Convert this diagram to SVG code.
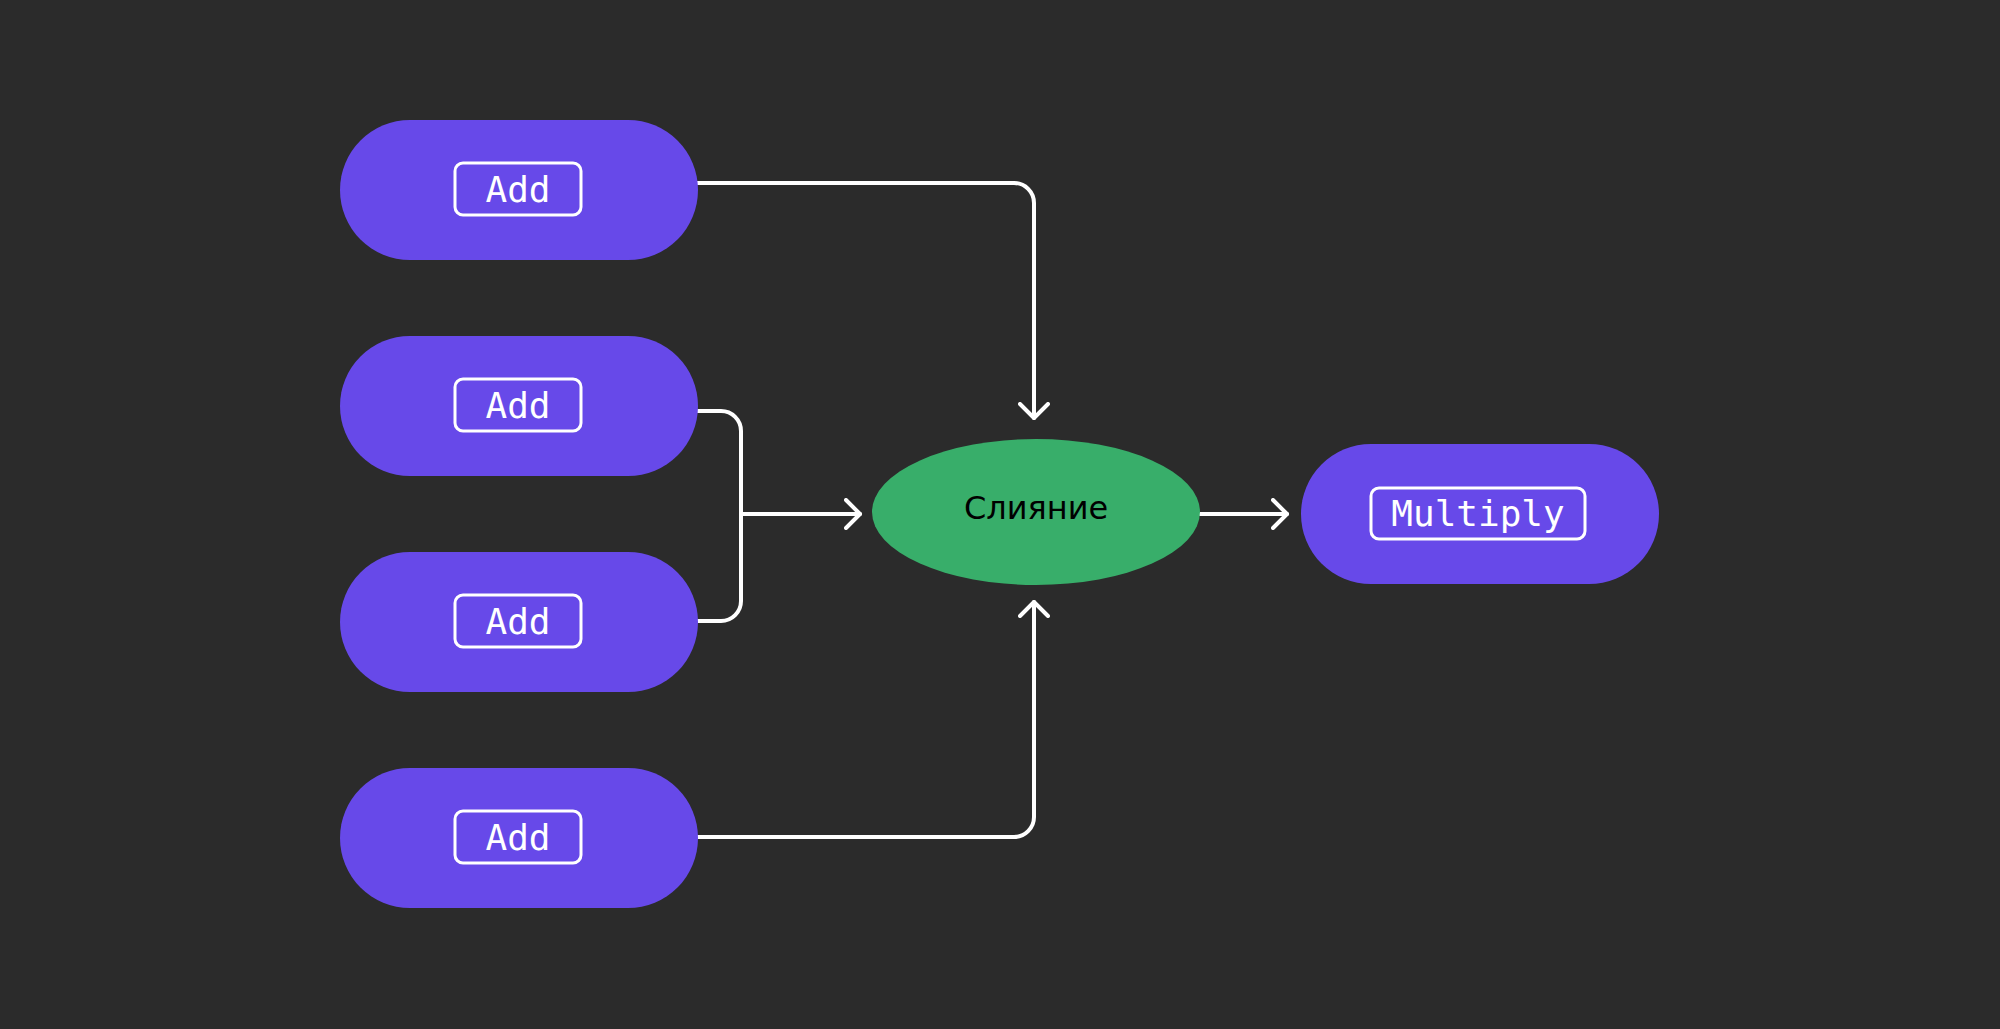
<svg xmlns="http://www.w3.org/2000/svg" width="2000" height="1029" viewBox="0 0 2000 1029">
  <defs>
    <style>
      .pill { fill: #6749E9; }
      .lbl { fill: none; stroke: #FFFFFF; stroke-width: 3; }
      .mono { font-family: "DejaVu Sans Mono", "Liberation Mono", monospace; font-size: 36px; fill: #FFFFFF; text-anchor: middle; }
      .sans { font-family: "DejaVu Sans", "Liberation Sans", sans-serif; font-size: 32px; fill: #000000; text-anchor: middle; }
      .edge { fill: none; stroke: #FFFFFF; stroke-width: 4; stroke-linecap: round; stroke-linejoin: round; }
    </style>
    <marker id="arrow" viewBox="-16 -16 20 32" markerWidth="20" markerHeight="32" refX="0" refY="0" orient="auto" markerUnits="userSpaceOnUse">
      <path d="M-14,-14 L0,0 L-14,14" fill="none" stroke="#FFFFFF" stroke-width="4" stroke-linecap="round" stroke-linejoin="round"/>
    </marker>
  </defs>
  <rect x="0" y="0" width="2000" height="1029" fill="#2B2B2B"/>

  <g id="connectors">
    <path class="edge" d="M697,183 H1014 A20,20 0 0 1 1034,203 V418" marker-end="url(#arrow)"/>
    <path class="edge" d="M697,411 H721 A20,20 0 0 1 741,431 V601 A20,20 0 0 1 721,621 H697"/>
    <path class="edge" d="M741,514 H860" marker-end="url(#arrow)"/>
    <path class="edge" d="M697,837 H1014 A20,20 0 0 0 1034,817 V602" marker-end="url(#arrow)"/>
    <path class="edge" d="M1200,514 H1287" marker-end="url(#arrow)"/>
  </g>

  <g id="add1">
    <rect class="pill" x="340" y="120" width="358" height="140" rx="70" ry="70"/>
    <rect class="lbl" x="455" y="163" width="126" height="52" rx="8" ry="8"/>
    <text class="mono" x="518" y="202">Add</text>
  </g>
  <g id="add2">
    <rect class="pill" x="340" y="336" width="358" height="140" rx="70" ry="70"/>
    <rect class="lbl" x="455" y="379" width="126" height="52" rx="8" ry="8"/>
    <text class="mono" x="518" y="418">Add</text>
  </g>
  <g id="add3">
    <rect class="pill" x="340" y="552" width="358" height="140" rx="70" ry="70"/>
    <rect class="lbl" x="455" y="595" width="126" height="52" rx="8" ry="8"/>
    <text class="mono" x="518" y="634">Add</text>
  </g>
  <g id="add4">
    <rect class="pill" x="340" y="768" width="358" height="140" rx="70" ry="70"/>
    <rect class="lbl" x="455" y="811" width="126" height="52" rx="8" ry="8"/>
    <text class="mono" x="518" y="850">Add</text>
  </g>

  <g id="merge">
    <ellipse cx="1036" cy="512" rx="164" ry="73" fill="#38AE6A"/>
    <text class="sans" x="1036" y="519">Слияние</text>
  </g>

  <g id="multiply">
    <rect class="pill" x="1301" y="444" width="358" height="140" rx="70" ry="70"/>
    <rect class="lbl" x="1371" y="488" width="214" height="51" rx="8" ry="8"/>
    <text class="mono" x="1478" y="526">Multiply</text>
  </g>
</svg>
